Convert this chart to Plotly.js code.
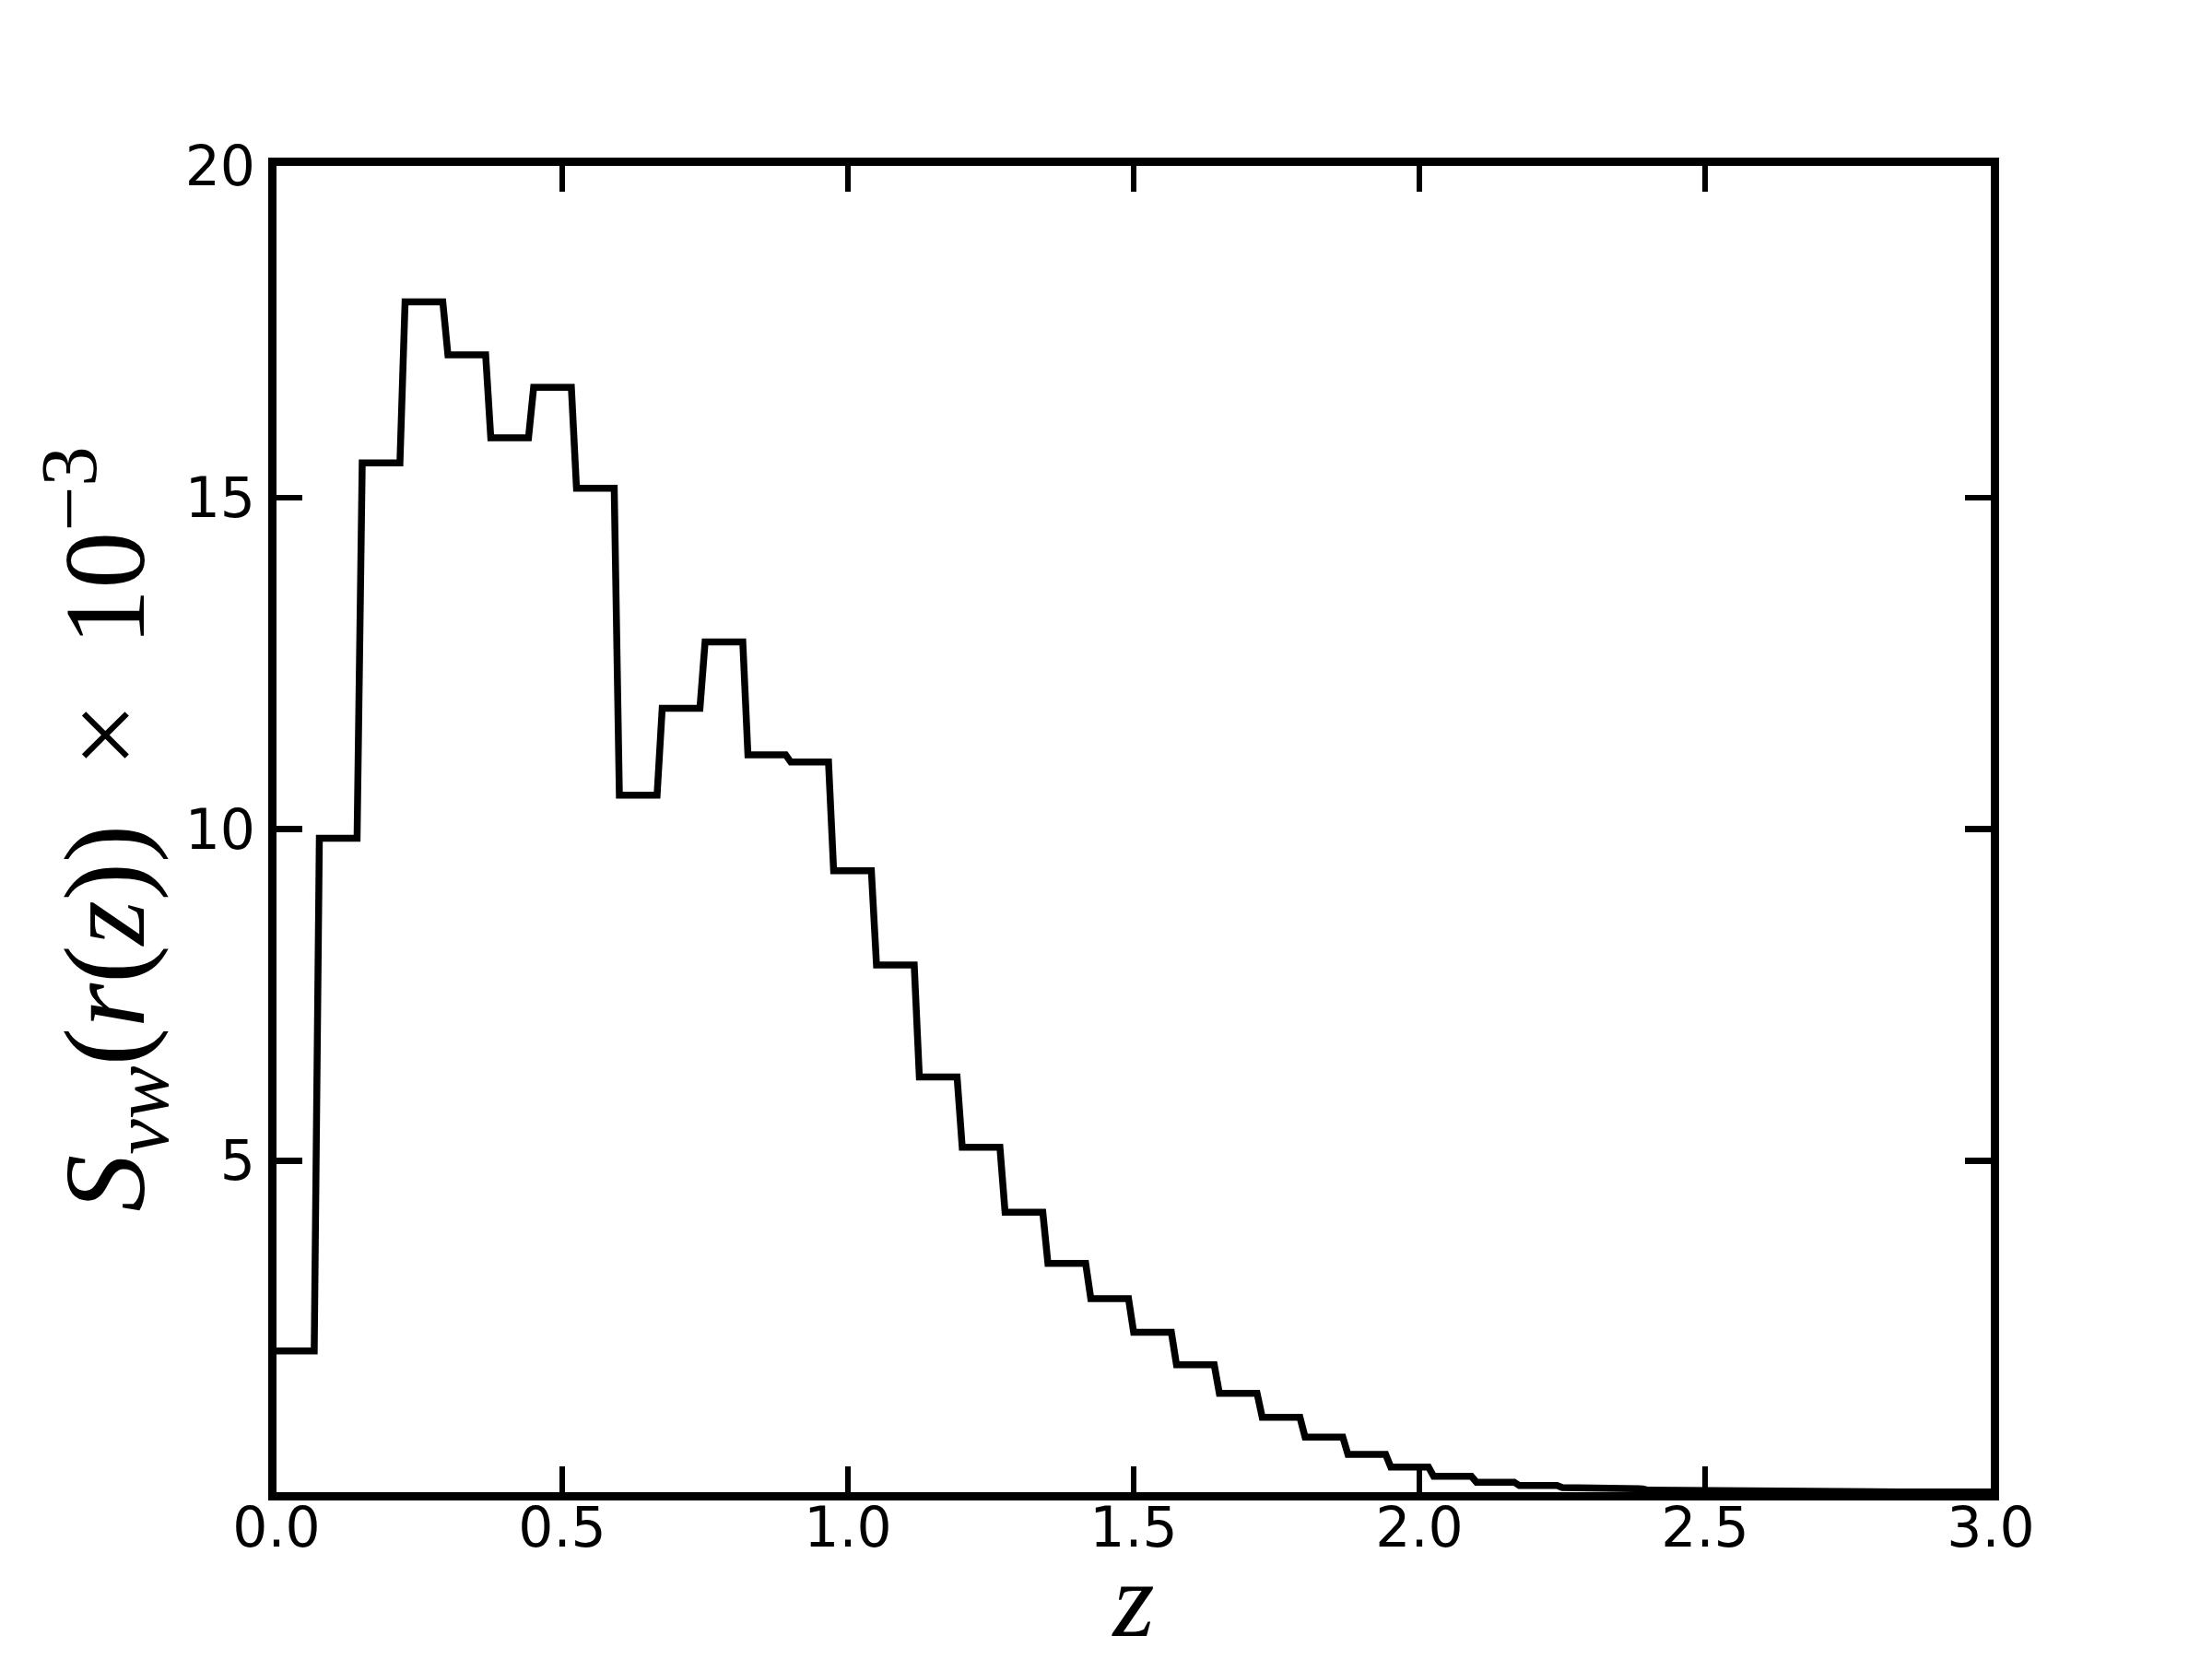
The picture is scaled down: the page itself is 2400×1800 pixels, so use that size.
<!DOCTYPE html>
<html>
<head>
<meta charset="utf-8">
<script src="https://cdn.plot.ly/plotly-3.0.1.min.js"></script>
<style>
  html, body { margin: 0; padding: 0; background: #fff; }
  #chart { width: 2400px; height: 1800px; }
</style>
</head>
<body>
<div id="chart"></div>
<script>
// Histogram bin edges in z (40 bins)
const binEdges = [0.000, 0.075, 0.150, 0.225, 0.300, 0.375, 0.450, 0.525, 0.600, 0.675,
                  0.750, 0.825, 0.900, 0.975, 1.050, 1.125, 1.200, 1.275, 1.350, 1.425,
                  1.500, 1.575, 1.650, 1.725, 1.800, 1.875, 1.950, 2.025, 2.100, 2.175,
                  2.250, 2.325, 2.400, 2.475, 2.550, 2.625, 2.700, 2.775, 2.850, 2.925, 3.000];
// S_vw(r(z)) x 10^-3 per bin
const binValues = [2.13, 9.86, 15.52, 17.95, 17.15, 15.90, 16.66, 15.14, 10.51, 11.82,
                   12.82, 11.12, 11.01, 9.37, 7.95, 6.26, 5.20, 4.22, 3.45, 2.92,
                   2.41, 1.92, 1.49, 1.13, 0.83, 0.57, 0.38, 0.24, 0.15, 0.10,
                   0.07, 0.05, 0.03, 0.02, 0.015, 0.01, 0.007, 0.005, 0.003, 0.002];
const xTickVals = [0.0, 0.5, 1.0, 1.5, 2.0, 2.5, 3.0];
const yTickVals = [5, 10, 15, 20];

// the original curve was sampled on a fine grid, so each jump spans one sample step
const sampleStep = 0.009;
const xs = [], ys = [];
for (let i = 0; i < binValues.length; i++) {
  const last = i === binValues.length - 1;
  xs.push(binEdges[i], last ? binEdges[i + 1] : binEdges[i + 1] - sampleStep);
  ys.push(binValues[i], binValues[i]);
}

const tickFont = { family: 'DejaVu Sans, sans-serif', size: 60, color: '#000' };
const mathFont = { family: 'Liberation Serif, DejaVu Serif, serif', size: 124, color: '#000' };
const xTitleFont = { family: 'Liberation Serif, DejaVu Serif, serif', size: 116, color: '#000' };
const nb = '\u00a0';

const trace = {
  x: xs, y: ys, type: 'scatter', mode: 'lines',
  line: { color: '#000', width: 7.5, shape: 'linear' },
  hoverinfo: 'skip', showlegend: false
};

const layout = {
  width: 2400, height: 1800,
  margin: { l: 300, r: 240, t: 180, b: 181, pad: 0 },
  paper_bgcolor: '#fff', plot_bgcolor: '#fff',
  showlegend: false,
  xaxis: {
    range: [0, 3], tickvals: xTickVals, tickformat: '.1f',
    ticks: 'inside', ticklen: 28, tickwidth: 6.5, tickcolor: '#000',
    showline: true, linewidth: 9, linecolor: '#000', mirror: 'allticks',
    showgrid: false, zeroline: false, tickfont: tickFont,
    ticklabelstandoff: -22,
    title: { text: '<i>z</i>', font: xTitleFont, standoff: 8 }
  },
  yaxis: {
    range: [0, 20], tickvals: yTickVals,
    ticks: 'inside', ticklen: 28, tickwidth: 6.5, tickcolor: '#000',
    showline: true, linewidth: 9, linecolor: '#000', mirror: 'allticks',
    showgrid: false, zeroline: false, tickfont: tickFont,
    ticklabelstandoff: 2,
    title: { text: '<i>S</i><sub><i>vw</i></sub>(<i>r</i>(<i>z</i>))' + nb + nb + '\u00d7' + nb + nb + '10<sup>\u22123</sup>', font: mathFont, standoff: 4 }
  }
};

Plotly.newPlot('chart', [trace], layout, { displayModeBar: false, staticPlot: true });
</script>
</body>
</html>
